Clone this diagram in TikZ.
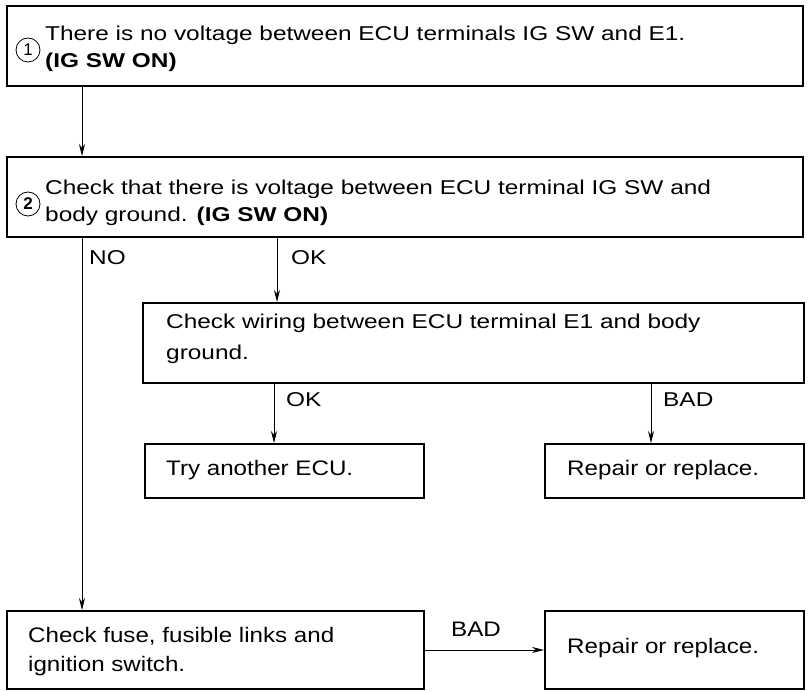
\documentclass[tikz,border=0pt]{standalone}
\usepackage{fontspec}
\setmainfont{Liberation Sans}
\newfontfamily\topfont[FakeStretch=1.22]{Liberation Sans}
\newfontfamily\lowfont[FakeStretch=1.15]{Liberation Sans}
\usetikzlibrary{arrows.meta}
\begin{document}
\begin{tikzpicture}[x=1pt,y=-1pt,
  box/.style={draw, line width=1.6pt, anchor=north west, inner sep=0pt},
  txt/.style={anchor=west, inner sep=0pt, align=left, font=\topfont\fontsize{20}{27}\selectfont},
  ltxt/.style={anchor=west, inner sep=0pt, align=left, font=\lowfont\fontsize{21}{29}\selectfont},
  num/.style={draw, circle, line width=0.8pt, inner sep=0pt, minimum size=24pt,
    font=\fontsize{17}{17}\selectfont},
  conn/.style={line width=0.8pt, -{Stealth[length=12pt,width=6pt]}}]
\useasboundingbox (0,0) rectangle (810,692);
% boxes
\node (b1) [box, minimum width=796pt, minimum height=80pt] at (6,5) {};
\node (b2) [box, minimum width=796pt, minimum height=80pt] at (6,156) {};
\node (b3) [box, minimum width=661pt, minimum height=80pt] at (142,302) {};
\node (b4) [box, minimum width=279pt, minimum height=54pt] at (144,443) {};
\node (b5) [box, minimum width=259pt, minimum height=54pt] at (544,443) {};
\node (b6) [box, minimum width=417pt, minimum height=78pt] at (6,610) {};
\node (b7) [box, minimum width=259pt, minimum height=78pt] at (544,610) {};
% texts
\node (t1) [txt] at (45,49)
  {There is no voltage between ECU terminals IG SW and E1.\\\textbf{(IG SW ON)}};
\node (c1) [num] at (28,50) {1};
\node (t2) [txt] at (45,203)
  {Check that there is voltage between ECU terminal IG SW and\\body ground. \textbf{(IG SW ON)}};
\node (c2) [num] at (28,204) {\textbf{2}};
\node (t3) [txt, font=\topfont\fontsize{20}{31}\selectfont] at (166,339)
  {Check wiring between ECU terminal E1 and body\\ground.};
\node (t4) [ltxt] at (166,470) {Try another ECU.};
\node (t5) [ltxt] at (567,470) {Repair or replace.};
\node (t6) [ltxt] at (28,652) {Check fuse, fusible links and\\ignition switch.};
\node (t7) [ltxt] at (567,648) {Repair or replace.};
% connectors
\coordinate (p1) at (82,0);
\draw[conn] (b1.south -| p1) -- (b2.north -| p1);
\draw[conn] (b2.south -| p1) -- (b6.north -| p1);
\coordinate (p2) at (277,0);
\draw[conn] (b2.south -| p2) -- (b3.north -| p2);
\coordinate (p3) at (274,0);
\draw[conn] (b3.south -| p3) -- (b4.north -| p3);
\coordinate (p4) at (651,0);
\draw[conn] (b3.south -| p4) -- (b5.north -| p4);
\coordinate (p5) at (0,650);
\draw[conn] (b6.east |- p5) -- (b7.west |- p5);
% labels
\node (lno) [txt] at (89,258) {NO};
\node (lok1) [txt] at (291,258) {OK};
\node (lok2) [txt] at (286,400) {OK};
\node (lbad1) [txt] at (663,400) {BAD};
\node (lbad2) [ltxt] at (451,629) {BAD};
\end{tikzpicture}
\end{document}
